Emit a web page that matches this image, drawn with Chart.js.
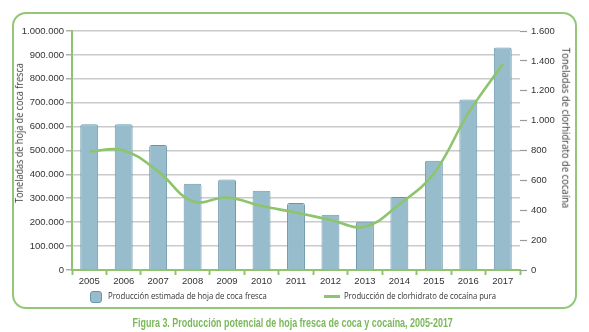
<!DOCTYPE html>
<html lang="es">
<head>
<meta charset="UTF-8">
<title>Producción potencial de hoja fresca de coca y cocaína, 2005-2017</title>
<script src="https://cdn.jsdelivr.net/npm/chart.js"></script>
<style>
    html, body {
        margin: 0;
        padding: 0;
        background: #ffffff;
        font-family: 'Open Sans', 'Liberation Sans', sans-serif;
        color: #333333;
    }
    #wrap {
        position: relative;
        width: 589px;
        height: 332px;
        overflow: hidden;
    }
    .frame {
        position: absolute;
        left: 12px;
        top: 12px;
        width: 561px;
        height: 293px;
        border: 2px solid #93c777;
        border-radius: 14px;
    }
    #chartBox {
        position: absolute;
        left: 0;
        top: 0;
        width: 589px;
        height: 332px;
    }
    .fit {
        position: absolute;
        white-space: nowrap;
        display: inline-block;
    }
    .axis-title {
        font-size: 10px;
        line-height: 12px;
        color: #333333;
    }
    .legend-text {
        font-size: 9px;
        line-height: 12px;
        top: 290px;
    }
    .swatch-bar {
        position: absolute;
        left: 90px;
        top: 291px;
        width: 10px;
        height: 10px;
        background: #97bdcd;
        border: 1px solid #6a96ad;
        border-radius: 3px;
    }
    .swatch-line {
        position: absolute;
        left: 324px;
        top: 295px;
        width: 16px;
        height: 3px;
        background: #8dc46c;
    }
    .caption {
        font-family: 'Liberation Sans', sans-serif;
        font-weight: bold;
        font-size: 12.5px;
        line-height: 14px;
        color: #7bb85a;
    }
</style>
</head>
<body>
<div id="wrap">
    <div class="frame"></div>
    <div id="chartBox"><canvas id="cocaChart"></canvas></div>
    <div class="fit axis-title" id="titleLeft">Toneladas de hoja de coca fresca</div>
    <div class="fit axis-title" id="titleRight">Toneladas de clorhidrato de cocaína</div>
    <span class="swatch-bar"></span>
    <div class="fit legend-text" id="legBar">Producción estimada de hoja de coca fresca</div>
    <span class="swatch-line"></span>
    <div class="fit legend-text" id="legLine">Producción de clorhidrato de cocaína pura</div>
    <div class="fit caption" id="caption">Figura 3. Producción potencial de hoja fresca de coca y cocaína, 2005-2017</div>
</div>

<script>
    // años y series
    const years = ['2005', '2006', '2007', '2008', '2009', '2010', '2011', '2012', '2013', '2014', '2015', '2016', '2017'];
    const hojaCoca = [610000, 610000, 523000, 361000, 379000, 332000, 280000, 231000, 202000, 305000, 457000, 713000, 931000];
    const cocaina = [795, 800, 660, 460, 485, 428, 385, 335, 290, 440, 646, 1050, 1379];

    const leftMax = 1000000, leftStep = 100000;
    const rightMax = 1600, rightStep = 200;

    const fmt = v => Math.round(v).toString().replace(/\B(?=(\d{3})+(?!\d))/g, '.');
    const tickFont = { family: "'Liberation Sans', sans-serif", size: 9.5 };

    // ajusta un texto a un ancho dado (centro cx, cy), con rotación opcional
    function place(id, cx, cy, width, rot) {
        const el = document.getElementById(id);
        const w = el.offsetWidth, h = el.offsetHeight;
        el.style.left = (cx - w / 2) + 'px';
        el.style.top = (cy - h / 2) + 'px';
        el.style.transform = 'rotate(' + rot + 'deg) scaleX(' + (width / w) + ')';
    }
    function placeLeft(id, x, width) {
        const el = document.getElementById(id);
        const w = el.offsetWidth;
        el.style.left = x + 'px';
        el.style.transformOrigin = 'left center';
        el.style.transform = 'scaleX(' + (width / w) + ')';
    }

    place('titleLeft', 19, 133, 140, -90);
    place('titleRight', 566, 128, 160, 90);
    placeLeft('legBar', 108, 159);
    placeLeft('legLine', 344, 152);
    place('caption', 292, 323, 320, 0);

    new Chart(document.getElementById('cocaChart'), {
        data: {
            labels: years,
            datasets: [
                {
                    type: 'line',
                    label: 'Producción de clorhidrato de cocaína pura',
                    data: cocaina,
                    yAxisID: 'yRight',
                    borderColor: '#8dc46c',
                    borderWidth: 2.6,
                    pointRadius: 0,
                    tension: 0.4,
                    fill: false,
                    order: 0
                },
                {
                    type: 'bar',
                    label: 'Producción estimada de hoja de coca fresca',
                    data: hojaCoca,
                    yAxisID: 'yLeft',
                    backgroundColor: '#97bdcd',
                    borderColor: '#6a96ad',
                    borderWidth: 1,
                    borderRadius: { topLeft: 2, topRight: 2 },
                    borderSkipped: 'bottom',
                    categoryPercentage: 1,
                    barPercentage: 0.52,
                    order: 1
                }
            ]
        },
        options: {
            responsive: true,
            maintainAspectRatio: false,
            animation: false,
            layout: { padding: { top: 31, left: 0, right: 0, bottom: 0 } },
            plugins: {
                legend: { display: false },
                tooltip: { enabled: false }
            },
            scales: {
                x: {
                    offset: true,
                    grid: {
                        offset: true,
                        drawOnChartArea: false,
                        drawTicks: true,
                        tickLength: 5,
                        tickWidth: 2,
                        tickColor: '#8dc46c'
                    },
                    border: { display: true, color: '#8dc46c', width: 2 },
                    ticks: { color: '#333333', font: tickFont, padding: 1, maxRotation: 0 },
                    afterFit: s => { s.height = 62; }
                },
                yLeft: {
                    position: 'left',
                    min: 0,
                    max: leftMax,
                    grid: {
                        color: '#cacaca',
                        lineWidth: 1.6,
                        drawTicks: true,
                        tickLength: 6,
                        tickColor: '#9a9a9a',
                        tickWidth: 1.2
                    },
                    border: { display: true, color: '#8dc46c', width: 2 },
                    ticks: {
                        stepSize: leftStep,
                        color: '#333333',
                        font: tickFont,
                        padding: 2,
                        callback: v => fmt(v)
                    },
                    afterFit: s => { s.width = 72; }
                },
                yRight: {
                    position: 'right',
                    min: 0,
                    max: rightMax,
                    grid: {
                        drawOnChartArea: false,
                        drawTicks: true,
                        tickLength: 7,
                        tickColor: '#9a9a9a',
                        tickWidth: 1.2
                    },
                    border: { display: false },
                    ticks: {
                        stepSize: rightStep,
                        color: '#333333',
                        font: tickFont,
                        padding: 4,
                        callback: v => fmt(v)
                    },
                    afterFit: s => { s.width = 69; }
                }
            }
        }
    });
</script>
</body>
</html>
